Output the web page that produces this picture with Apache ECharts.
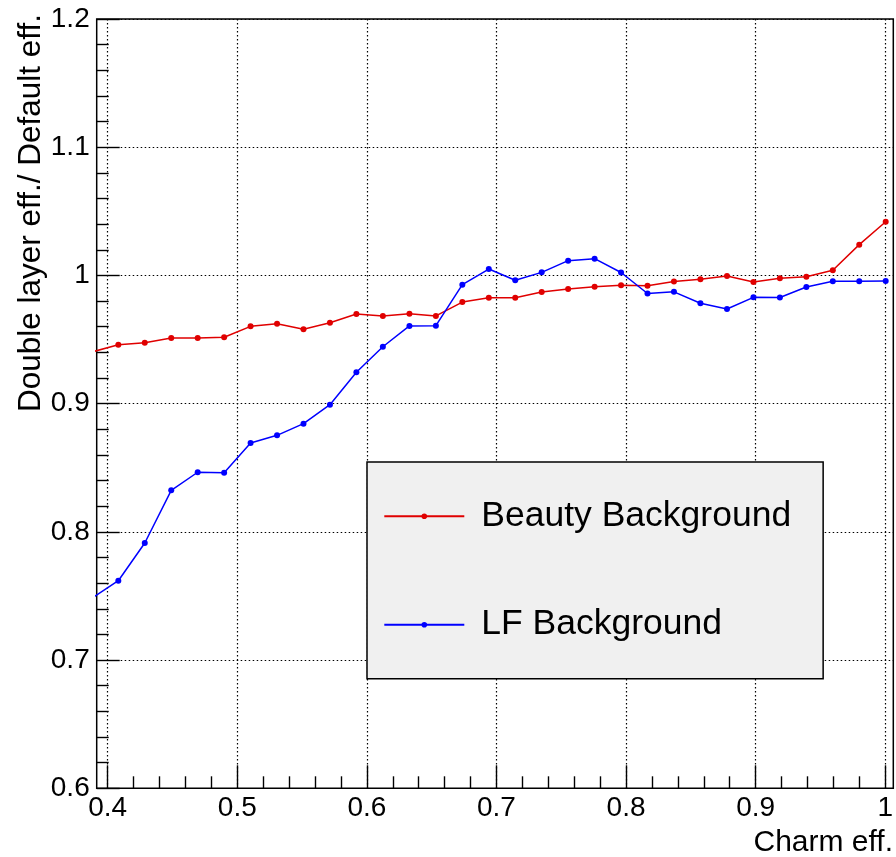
<!DOCTYPE html>
<html>
<head>
<meta charset="utf-8">
<script src="https://cdn.jsdelivr.net/npm/echarts@6/dist/echarts.min.js"></script>
<style>
html,body{margin:0;padding:0;background:#fff;}
#chart{width:896px;height:857px;}
</style>
</head>
<body>
<div id="chart"></div>
<script>
// Charm efficiency (bin centres, k/49)
const charmEff = [0.3878, 0.4082, 0.4286, 0.4490, 0.4694, 0.4898, 0.5102, 0.5306, 0.5510, 0.5714,
  0.5918, 0.6122, 0.6327, 0.6531, 0.6735, 0.6939, 0.7143, 0.7347, 0.7551, 0.7755,
  0.7959, 0.8163, 0.8367, 0.8571, 0.8776, 0.8980, 0.9184, 0.9388, 0.9592, 0.9796, 1.0000];
const beautyRatio = [0.9403, 0.9460, 0.9475, 0.9512, 0.9512, 0.9518, 0.9603, 0.9624, 0.9580, 0.9631,
  0.9699, 0.9684, 0.9702, 0.9684, 0.9792, 0.9826, 0.9826, 0.9871, 0.9894, 0.9912,
  0.9923, 0.9920, 0.9953, 0.9971, 0.9996, 0.9949, 0.9978, 0.9990, 1.0041, 1.0240, 1.0419];
const lfRatio = [0.7483, 0.7619, 0.7913, 0.8324, 0.8465, 0.8462, 0.8693, 0.8753, 0.8844, 0.8992,
  0.9245, 0.9444, 0.9606, 0.9608, 0.9928, 1.0050, 0.9962, 1.0024, 1.0115, 1.0131,
  1.0023, 0.9859, 0.9872, 0.9783, 0.9738, 0.9829, 0.9828, 0.9910, 0.9954, 0.9955, 0.9957];
const seriesNames = ['Beauty Background', 'LF Background'];
const xTitle = 'Charm eff.';
const yTitle = 'Double layer eff./ Default eff.';

const FONT = 'Liberation Sans';
const pairs = (xs, ys) => xs.map((x, i) => [x, ys[i]]);

const chart = echarts.init(document.getElementById('chart'), null, {renderer: 'canvas'});
const dotted = {color: '#000', width: 1.2, type: [1.5, 2.5]};
const tickStyle = {color: '#000', width: 1.4};

chart.setOption({
  animation: false,
  backgroundColor: '#fff',
  grid: [
    {left: 107.7, right: 10.3, top: 19, bottom: 68.7},
    {left: 96.7, right: 2.7, top: 19, bottom: 68.7, show: true, borderColor: '#000', borderWidth: 1.5, backgroundColor: 'transparent'}
  ],
  xAxis: [
    {
      gridIndex: 0, type: 'value', min: 0.4, max: 1.0, interval: 0.1,
      axisLine: {show: false, onZero: false},
      axisTick: {show: true, inside: true, length: 23, lineStyle: tickStyle},
      minorTick: {show: true, splitNumber: 5, length: 12, lineStyle: tickStyle},
      splitLine: {show: true, lineStyle: dotted},
      axisLabel: {fontSize: 28, color: '#000', fontFamily: FONT, margin: 6}
    },
    {gridIndex: 1, type: 'value', min: 0.39152, max: 1.00586, show: false}
  ],
  yAxis: [
    {gridIndex: 0, type: 'value', min: 0.6, max: 1.2, show: false},
    {
      gridIndex: 1, type: 'value', min: 0.6, max: 1.2, interval: 0.1,
      axisLine: {show: false, onZero: false},
      axisTick: {show: true, inside: true, length: 23, lineStyle: tickStyle},
      minorTick: {show: true, splitNumber: 5, length: 12, lineStyle: tickStyle},
      splitLine: {show: true, lineStyle: dotted},
      axisLabel: {fontSize: 28, color: '#000', fontFamily: FONT, margin: 7}
    }
  ],
  legend: {
    data: seriesNames,
    orient: 'vertical',
    left: 367, top: 462,
    padding: [34.3, 32, 34, 16.3],
    itemGap: 68.4,
    itemWidth: 80,
    itemHeight: 7,
    selectedMode: false,
    backgroundColor: '#f0f0f0',
    borderColor: '#000',
    borderWidth: 1.5,
    textStyle: {fontSize: 35.5, color: '#000', fontFamily: FONT, lineHeight: 40, padding: [0, 0, 0, 12]}
  },
  graphic: [
    {type: 'text', x: 31, y: 14, rotation: Math.PI / 2, silent: true,
      style: {text: yTitle, fontSize: 31.5, fontFamily: FONT, fill: '#000', align: 'right', verticalAlign: 'middle', textAlign: 'right', textVerticalAlign: 'middle'}},
    {type: 'text', x: 893, y: 843, silent: true,
      style: {text: xTitle, fontSize: 30, fontFamily: FONT, fill: '#000', align: 'right', verticalAlign: 'middle', textAlign: 'right', textVerticalAlign: 'middle'}}
  ],
  series: [
    {
      name: seriesNames[0], type: 'line', xAxisIndex: 1, yAxisIndex: 1,
      data: pairs(charmEff, beautyRatio), clip: true,
      symbol: 'circle', symbolSize: 6, showAllSymbol: true,
      lineStyle: {color: '#e00000', width: 1.5},
      itemStyle: {color: '#e00000'},
      emphasis: {disabled: true}
    },
    {
      name: seriesNames[1], type: 'line', xAxisIndex: 1, yAxisIndex: 1,
      data: pairs(charmEff, lfRatio), clip: true,
      symbol: 'circle', symbolSize: 6, showAllSymbol: true,
      lineStyle: {color: '#0000ff', width: 1.5},
      itemStyle: {color: '#0000ff'},
      emphasis: {disabled: true}
    }
  ]
});
</script>
</body>
</html>
